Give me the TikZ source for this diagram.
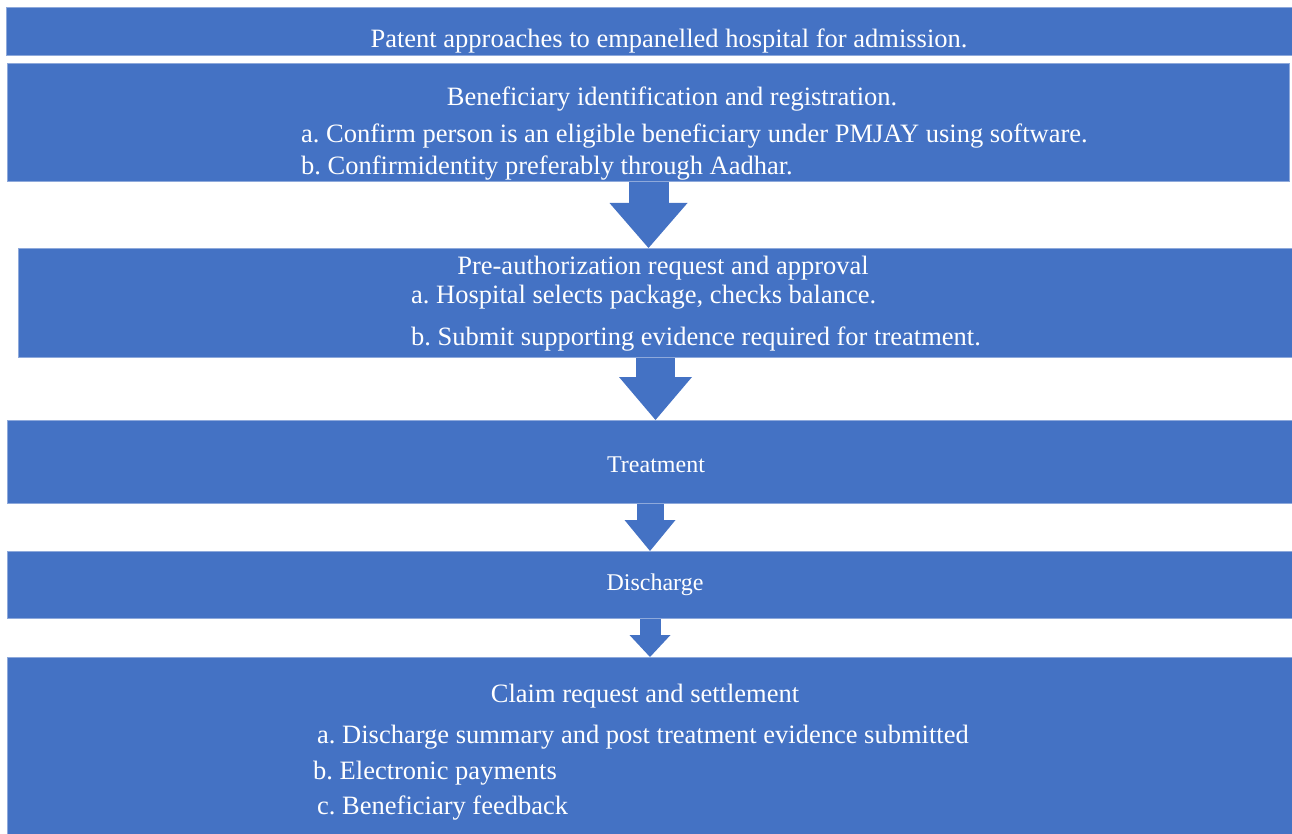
\documentclass[tikz,border=0pt]{standalone}
\usepackage{fontspec}
\setmainfont{Liberation Serif}
\usepackage{xcolor}
\usepackage{tikz}
\usetikzlibrary{arrows.meta,positioning,calc}

\definecolor{boxblue}{HTML}{4472C4}
\definecolor{boxline}{HTML}{8EA9DB}

\begin{document}
\frenchspacing
\begin{tikzpicture}[x=1pt,y=-1pt,
  box/.style={draw=boxline,line width=1pt,fill=boxblue,inner sep=0pt,
              anchor=north west},
  txt/.style={text=white,inner sep=0pt,font=\fontsize{26.5}{30}\selectfont},
  smalltxt/.style={text=white,inner sep=0pt,font=\fontsize{24}{28}\selectfont},
  blockarrow/.style={draw=boxblue,line width=#1}]
  \useasboundingbox (0,0) rectangle (1292,834);
  % boxes
  \node[box,minimum width=1286pt,minimum height=48pt] (admit) at (6,7) {};
  \node[box,minimum width=1282pt,minimum height=118pt] (reg) at (7,63) {};
  \node[box,minimum width=1274pt,minimum height=109pt] (pre) at (18,248) {};
  \node[box,minimum width=1285pt,minimum height=83pt] (treat) at (7,420) {};
  \node[box,minimum width=1285pt,minimum height=67pt] (disch) at (7,551) {};
  \node[box,minimum width=1285pt,minimum height=177pt] (claim) at (7,657) {};
  % texts
  \node[txt,anchor=base] (admitT) at (669,48) {Patent approaches to empanelled hospital for admission.};
  \node[txt,anchor=base] (regT) at (672,106) {Beneficiary identification and registration.};
  \node[txt,anchor=base west] (regA) at (301,143) {a. Confirm person is an eligible beneficiary under PMJAY using software.};
  \node[txt,anchor=base west] (regB) at (301,175) {b. Confirmidentity preferably through Aadhar.};
  \node[txt,anchor=base] (preT) at (663,274) {Pre-authorization request and approval};
  \node[txt,anchor=base west] (preA) at (411,303) {a. Hospital selects package, checks balance.};
  \node[txt,anchor=base west] (preB) at (411,345) {b. Submit supporting evidence required for treatment.};
  \node[smalltxt,anchor=base] (treatT) at (656,472) {Treatment};
  \node[smalltxt,anchor=base] (dischT) at (655,590) {Discharge};
  \node[txt,anchor=base] (claimT) at (645,702) {Claim request and settlement};
  \node[txt,anchor=base west] (claimA) at (317,743) {a. Discharge summary and post treatment evidence submitted};
  \node[txt,anchor=base west] (claimB) at (313,779) {b. Electronic payments};
  \node[txt,anchor=base west] (claimC) at (317,814) {c. Beneficiary feedback};
  % arrows
  \draw[blockarrow=40pt,-{Triangle[length=45pt,width=78pt,line width=0pt]}]
    (reg.south) -- (reg.south |- pre.north);
  \draw[blockarrow=39pt,-{Triangle[length=43pt,width=73pt,line width=0pt]}]
    (pre.south) -- (pre.south |- treat.north);
  \draw[blockarrow=27pt,-{Triangle[length=31pt,width=51pt,line width=0pt]}]
    (treat.south) -- (treat.south |- disch.north);
  \draw[blockarrow=21pt,-{Triangle[length=22pt,width=41pt,line width=0pt]}]
    (disch.south) -- (disch.south |- claim.north);
\end{tikzpicture}
\end{document}
